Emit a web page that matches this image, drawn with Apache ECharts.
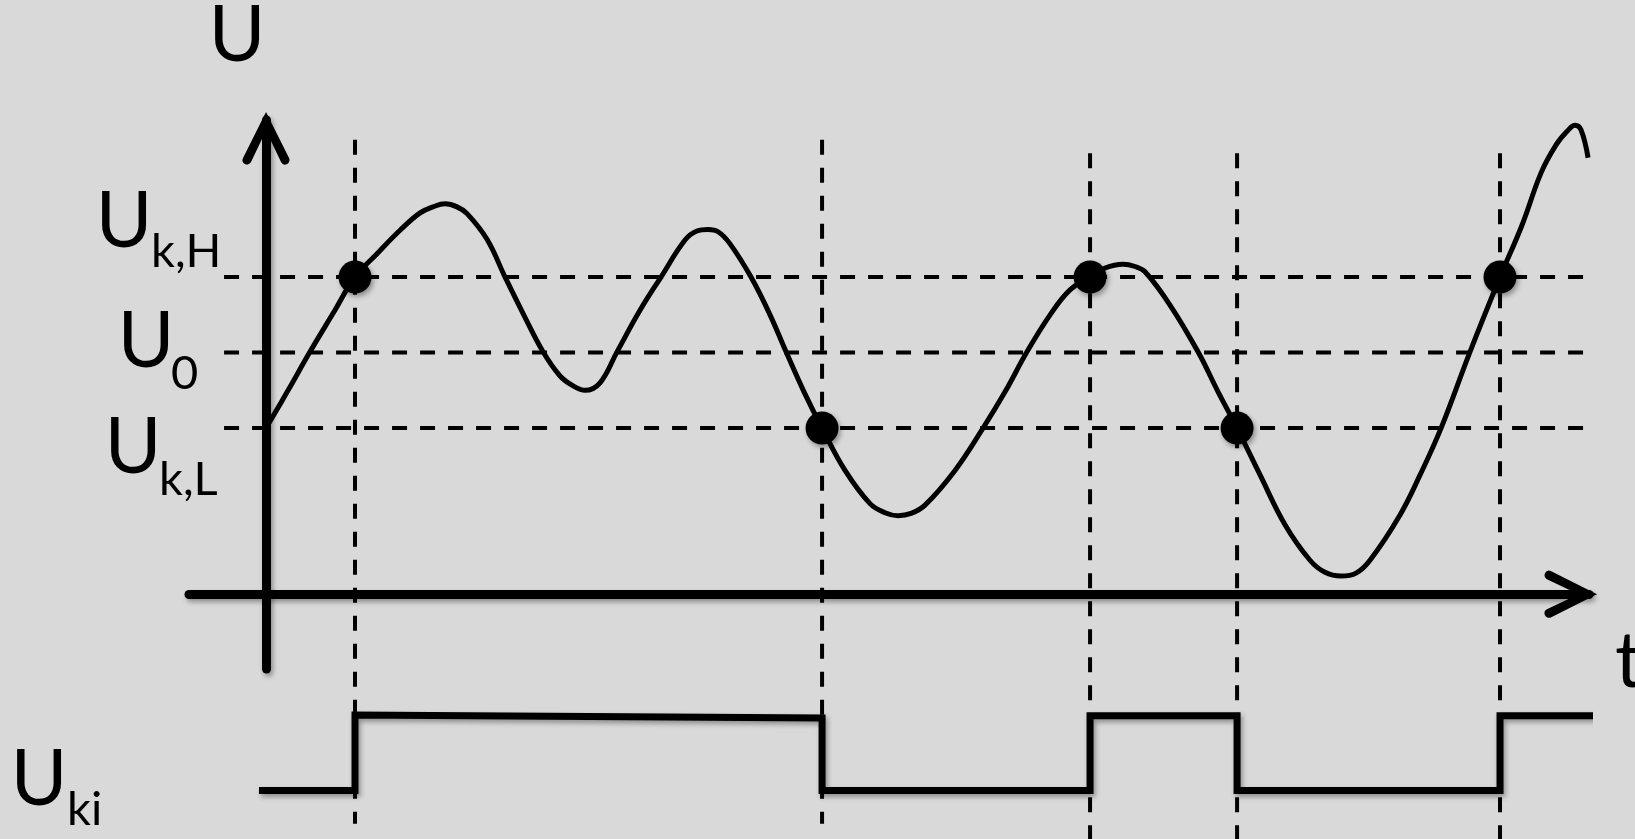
<!DOCTYPE html>
<html>
<head>
<meta charset="utf-8">
<script src="https://cdn.jsdelivr.net/npm/echarts@6/dist/echarts.min.js"></script>
<style>
  html, body { margin: 0; padding: 0; background: #d9d9d9; }
  #c { width: 1635px; height: 839px; }
</style>
</head>
<body>
<div id="c"></div>
<script>
// ---- data (t in arbitrary time units, U in arbitrary voltage units) ----
const curveT = [0.00, 1.66, 3.31, 5.05, 6.70, 8.36, 10.09, 11.60, 12.58, 13.48,
  14.38, 15.14, 16.64, 18.00, 19.35, 20.86, 22.14, 23.12, 24.02,
  25.15, 26.43, 28.16, 29.74, 31.55, 32.45, 33.28,
  34.04, 34.94, 36.52, 37.95, 39.16, 40.51, 41.87, 43.60, 45.48, 46.61, 47.59,
  48.57, 49.62, 51.88, 53.99, 55.65, 57.30, 59.04, 60.54, 62.05, 63.18, 64.53,
  65.44, 66.19, 68.07, 70.18, 71.69, 73.12, 74.85, 76.73, 78.61, 79.74, 80.95,
  82.08, 83.13, 85.39, 86.90, 88.48, 90.66, 92.92, 94.58, 96.01, 97.14, 97.97, 98.57, 99.02, 99.55];
const curveU = [2.20, 2.70, 3.21, 3.72, 4.20, 4.51, 4.82, 5.05, 5.13, 5.17,
  5.13, 5.04, 4.70, 4.20, 3.72, 3.21, 2.89, 2.76, 2.70,
  2.80, 3.21, 3.76, 4.20, 4.69, 4.81, 4.83,
  4.80, 4.64, 4.20, 3.70, 3.21, 2.68, 2.20, 1.64, 1.20, 1.08, 1.04,
  1.07, 1.18, 1.64, 2.20, 2.68, 3.21, 3.70, 4.03, 4.20, 4.32, 4.37,
  4.34, 4.27, 3.83, 3.21, 2.68, 2.20, 1.58, 0.92, 0.45, 0.29, 0.24,
  0.28, 0.45, 1.05, 1.58, 2.20, 3.21, 4.20, 4.89, 5.58, 5.95, 6.13, 6.21, 6.15, 5.78];

const thresholdNames = ['Uk,H', 'U0', 'Uk,L'];
const thresholdU = [4.2, 3.2, 2.2];

const switchT = [6.70, 41.87, 62.05, 73.12, 92.92];
const switchU = [4.2, 2.2, 4.2, 2.2, 4.2];

const ukiT = [-0.53, 6.70, 6.70, 41.87, 41.87, 62.05, 62.05, 73.12, 73.12, 92.92, 92.92, 100.45];
const ukiV = [-2.60, -2.60, -1.60, -1.64, -2.60, -2.60, -1.61, -1.61, -2.60, -2.60, -1.61, -1.61];

// ---- rendering ----
const guideTop = [6.02, 6.02, 5.84, 5.84, 5.84];
const guideBottom = [-3.04, -3.04, -3.45, -3.45, -3.45];
const thresholdFrom = -3.16, thresholdTo = 99.2;

const BLACK = '#000';
const FONT = 'Lato, "Open Sans", sans-serif';
const SHADOW = { shadowColor: 'rgba(0,0,0,0.35)', shadowBlur: 5, shadowOffsetX: 2, shadowOffsetY: 3 };
const ARROW = 'path://M24,-4 L47.06,42.07 A4.5,4.5,0,0,1,38.94,45.93 L24,14.48 L9.06,45.93 A4.5,4.5,0,0,1,0.94,42.07 Z';
const zip = (a, b) => a.map((v, i) => [v, b[i]]);
const DASH = { color: BLACK, width: 4, type: [15, 13], cap: 'butt' };

const series = [];
thresholdU.forEach((u, i) => series.push({
  name: thresholdNames[i], type: 'line', data: [[thresholdFrom, u], [thresholdTo, u]],
  symbol: 'none', silent: true, clip: false, lineStyle: DASH, z: 2
}));
switchT.forEach((t, i) => series.push({
  type: 'line', data: [[t, guideTop[i]], [t, guideBottom[i]]],
  symbol: 'none', silent: true, clip: false, lineStyle: DASH, z: 2
}));
series.push({
  name: 'U', type: 'line', data: zip(curveT, curveU), smooth: 0.4,
  symbol: 'none', silent: true, clip: false, lineStyle: { color: BLACK, width: 5, join: 'round' }, z: 3
});
series.push({
  name: 'Uki', type: 'line', data: zip(ukiT, ukiV),
  symbol: 'none', silent: true, clip: false,
  lineStyle: Object.assign({ color: BLACK, width: 7, join: 'miter' }, SHADOW), z: 3
});
series.push({
  name: 'switch', type: 'scatter', data: zip(switchT, switchU), symbolSize: 33,
  silent: true, clip: false, itemStyle: Object.assign({ color: BLACK, opacity: 1 }, SHADOW), z: 4
});

function txt(text, x, y, size, align) {
  return {
    type: 'text', x: x, y: y, silent: true, z: 100,
    style: { text: text, font: size + 'px ' + FONT, fill: BLACK, textAlign: align, textVerticalAlign: 'middle' }
  };
}

const axisLineBase = {
  show: true, onZero: true, symbol: ['none', ARROW], symbolSize: [47, 52.5], symbolOffset: [0, -18.25],
  lineStyle: Object.assign({ color: BLACK, width: 9 }, SHADOW)
};

const chart = echarts.init(document.getElementById('c'), null, { renderer: 'canvas', width: 1635, height: 839 });
chart.setOption({
  animation: false,
  backgroundColor: '#d9d9d9',
  grid: { left: 189, right: 46, top: 120, bottom: 170, containLabel: false, outerBoundsMode: 'none' },
  xAxis: {
    type: 'value', min: -5.8, max: 99.62,
    axisLine: axisLineBase, axisTick: { show: false }, axisLabel: { show: false }, splitLine: { show: false }
  },
  yAxis: {
    type: 'value', min: -0.99, max: 6.28,
    axisLine: axisLineBase, axisTick: { show: false }, axisLabel: { show: false }, splitLine: { show: false }
  },
  series: series,
  graphic: [
    txt('U', 237, 36, 77, 'center'),
    txt('t', 1615, 662, 77, 'left'),
    txt('U', 124, 222, 77, 'center'), txt('k,H', 151, 252, 47, 'left'),
    txt('U', 146, 342, 77, 'center'), txt('0', 171, 374, 47, 'left'),
    txt('U', 133, 448, 77, 'center'), txt('k,L', 159, 480, 47, 'left'),
    txt('U', 39, 780, 77, 'center'), txt('ki', 67, 810, 47, 'left')
  ]
});
</script>
</body>
</html>
